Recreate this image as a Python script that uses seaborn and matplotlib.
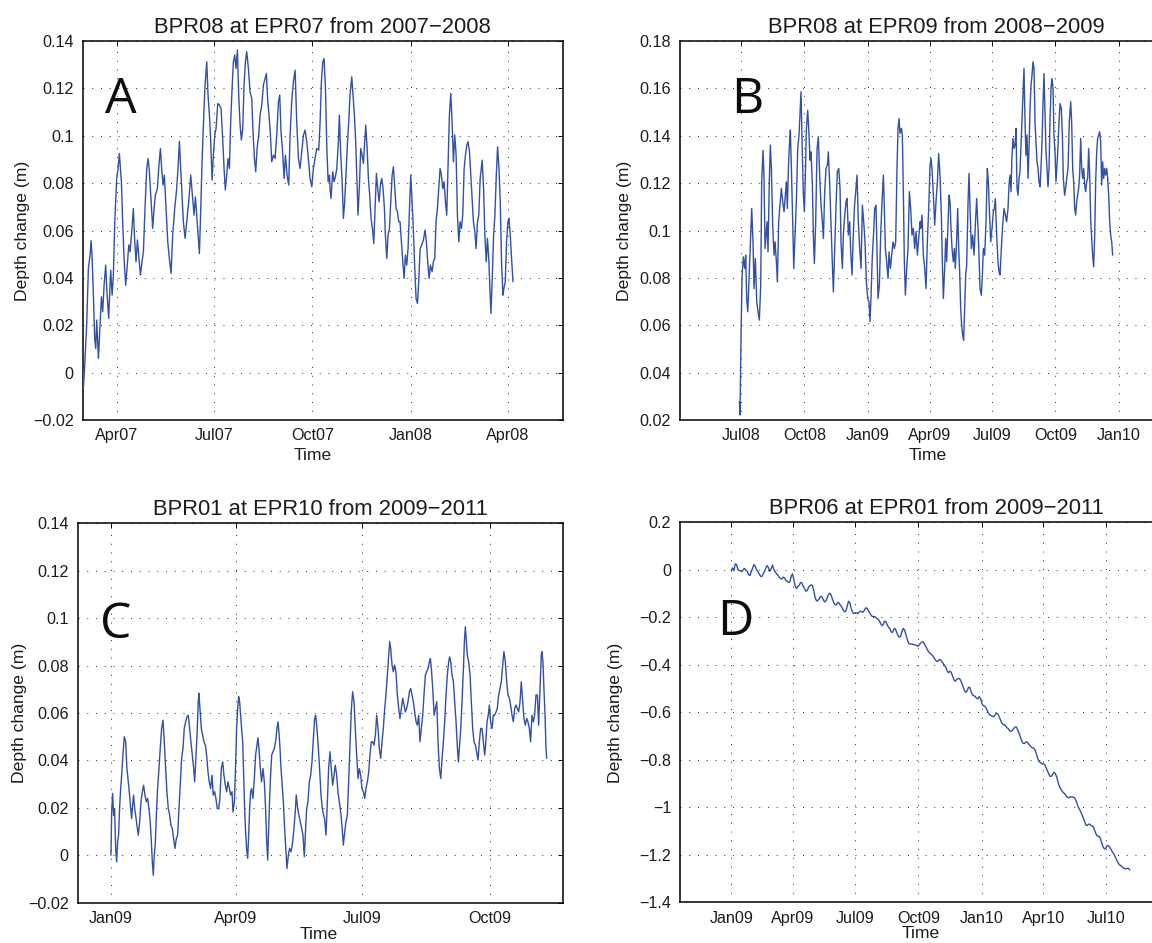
import numpy as np
import pandas as pd
import matplotlib
matplotlib.use('Agg')
import matplotlib.pyplot as plt
import matplotlib.dates as mdates
from matplotlib.ticker import FuncFormatter
import seaborn as sns

# ---- data ----
# panel A: days after 2007-02-28, depth change (m)
a_days = [0.0, 0.6, 1.9, 3.7, 5.3, 6.9, 7.8, 8.7, 10.0, 11.2,
          12.2, 13.1, 14.7, 16.2, 17.5, 18.7, 20.0, 21.5, 22.5, 24.3,
          26.2, 27.5, 28.7, 30.0, 31.8, 33.1, 34.3, 35.3, 36.2, 37.4,
          38.7, 40.2, 41.5, 43.1, 44.3, 45.9, 47.4, 48.7, 49.9, 51.2,
          52.4, 54.0, 55.5, 56.8, 58.3, 59.9, 61.2, 62.4, 63.7, 65.5,
          66.8, 68.0, 69.9, 71.1, 72.7, 73.9, 75.2, 76.4, 78.0, 79.6,
          81.1, 82.7, 84.2, 86.1, 87.7, 89.2, 90.5, 91.7, 93.0, 94.2,
          95.8, 97.3, 99.2, 101.1, 102.7, 104.2, 105.5, 106.7, 108.0, 109.2,
          110.5, 111.7, 113.3, 114.5, 116.1, 117.3, 118.6, 119.8, 121.1, 122.3,
          123.6, 124.8, 126.4, 127.9, 129.5, 131.0, 132.3, 133.5, 134.8, 136.0,
          137.3, 138.5, 139.8, 141.0, 142.3, 143.5, 144.8, 146.0, 147.3, 148.5,
          149.8, 151.0, 152.3, 153.5, 155.1, 156.6, 158.2, 159.4, 160.7, 161.9,
          163.2, 164.7, 166.0, 167.6, 169.1, 170.7, 171.9, 173.2, 174.4, 175.7,
          176.9, 178.5, 180.0, 181.6, 183.2, 184.4, 185.6, 186.9, 188.5, 189.7,
          191.3, 192.8, 194.1, 195.6, 197.2, 198.8, 200.3, 201.9, 203.4, 205.0,
          206.6, 208.1, 209.7, 211.2, 212.8, 214.4, 215.9, 217.5, 219.0, 220.9,
          222.2, 223.4, 224.7, 225.9, 227.2, 228.5, 229.7, 231.0,
          231.5, 232.4, 234.0, 235.3, 236.5, 237.8, 239.3, 240.2, 241.5, 242.7,
          244.0, 245.2, 246.5, 247.7, 249.0, 250.2, 251.8, 253.0, 254.3, 255.5,
          256.8, 257.7, 259.0, 260.2, 261.5, 262.7, 264.0, 264.9, 266.2, 267.4,
          268.6, 269.9, 271.5, 272.4, 273.6, 274.9, 276.1, 277.4, 278.6, 279.9,
          281.1, 282.4, 283.3, 284.6, 285.8, 287.1, 288.3, 289.6, 290.8, 292.1,
          293.3, 294.6, 295.8, 297.0, 298.3, 299.6, 300.8, 302.0, 303.3, 304.5,
          305.8, 307.0, 308.3, 309.5, 310.8, 312.0, 313.3, 314.5, 315.8, 317.3,
          318.9, 320.4, 321.7, 322.9, 324.2, 325.4, 327.0, 328.2, 329.5, 330.7,
          332.0, 333.2, 334.5, 335.7, 337.0, 338.2, 339.5, 340.7, 342.0, 343.2,
          344.5, 345.7, 347.0, 348.2, 349.5, 350.7, 352.0, 353.2, 354.5, 355.7,
          357.0, 358.2, 359.5, 360.7, 362.0, 363.2, 364.5, 365.7, 367.0, 368.2,
          369.5, 370.7, 372.0, 373.9, 375.2, 376.4, 377.7, 378.8, 380.2, 381.1,
          382.1, 383.3, 384.6, 385.8, 387.1, 388.3, 389.6, 390.8, 392.0, 393.3,
          394.2, 395.5, 396.7, 398.0, 398.9, 400.2, 401.4, 402.7]
a_depth = [0.0018, -0.0067, 0.0032, 0.0200, 0.0440, 0.0496, 0.0557, 0.0496, 0.0327, 0.0144,
           0.0102, 0.0222, 0.0060, 0.0200, 0.0320, 0.0257, 0.0369, 0.0454, 0.0355, 0.0229,
           0.0433, 0.0327, 0.0412, 0.0637, 0.0820, 0.0862, 0.0925, 0.0862, 0.0806, 0.0637,
           0.0482, 0.0369, 0.0440, 0.0539, 0.0510, 0.0595, 0.0693, 0.0552, 0.0468, 0.0560,
           0.0496, 0.0412, 0.0468, 0.0510, 0.0693, 0.0862, 0.0904, 0.0848, 0.0749, 0.0609,
           0.0693, 0.0749, 0.0777, 0.0862, 0.0946, 0.0862, 0.0792, 0.0834, 0.0693, 0.0552,
           0.0482, 0.0419, 0.0581, 0.0693, 0.0764, 0.0862, 0.0977, 0.0862, 0.0749, 0.0637,
           0.0567, 0.0637, 0.0721, 0.0834, 0.0749, 0.0665, 0.0742, 0.0665, 0.0581, 0.0503,
           0.0693, 0.0890, 0.1087, 0.1214, 0.1312, 0.1172, 0.1087, 0.0975, 0.0813, 0.0918,
           0.1003, 0.1031, 0.1136, 0.1130, 0.1115, 0.0989, 0.0862, 0.0771, 0.0834, 0.0904,
           0.0862, 0.1059, 0.1200, 0.1312, 0.1341, 0.1284, 0.1362, 0.1172, 0.1045, 0.0982,
           0.1031, 0.1214, 0.1312, 0.1355, 0.1284, 0.1186, 0.1158, 0.1017, 0.0904, 0.0848,
           0.0946, 0.1003, 0.1087, 0.1130, 0.1214, 0.1242, 0.1263, 0.1144, 0.1087, 0.1003,
           0.0890, 0.0918, 0.0904, 0.1003, 0.1144, 0.1172, 0.1017, 0.0946, 0.0820, 0.0918,
           0.0834, 0.0792, 0.1003, 0.1144, 0.1228, 0.1277, 0.1059, 0.0904, 0.0862, 0.0932,
           0.1003, 0.1024, 0.0975, 0.0904, 0.0820, 0.0785, 0.0862, 0.0904, 0.0946, 0.0939,
           0.1059, 0.1228, 0.1312, 0.1326, 0.1200, 0.0946, 0.0806, 0.0834,
           0.0777, 0.0735, 0.0848, 0.0806, 0.0827, 0.0862, 0.0975, 0.1087, 0.0918, 0.0820,
           0.0651, 0.0721, 0.0848, 0.0961, 0.1059, 0.1172, 0.1249, 0.1172, 0.1087, 0.0975,
           0.0792, 0.0665, 0.0792, 0.0946, 0.0918, 0.0883, 0.0975, 0.1045, 0.0946, 0.0820,
           0.0749, 0.0651, 0.0595, 0.0545, 0.0693, 0.0841, 0.0777, 0.0721, 0.0792, 0.0820,
           0.0777, 0.0693, 0.0581, 0.0482, 0.0581, 0.0609, 0.0721, 0.0834, 0.0869, 0.0777,
           0.0693, 0.0679, 0.0637, 0.0637, 0.0552, 0.0468, 0.0398, 0.0496, 0.0454, 0.0524,
           0.0679, 0.0834, 0.0721, 0.0595, 0.0440, 0.0313, 0.0292, 0.0384, 0.0524, 0.0539,
           0.0560, 0.0602, 0.0552, 0.0468, 0.0398, 0.0454, 0.0426, 0.0468, 0.0482, 0.0637,
           0.0693, 0.0777, 0.0862, 0.0834, 0.0777, 0.0806, 0.0721, 0.0665, 0.0890, 0.1087,
           0.1179, 0.1059, 0.0890, 0.1003, 0.0918, 0.0665, 0.0552, 0.0637, 0.0609, 0.0665,
           0.0862, 0.0918, 0.0961, 0.0975, 0.0932, 0.0834, 0.0735, 0.0637, 0.0595, 0.0524,
           0.0637, 0.0665, 0.0820, 0.0897, 0.0777, 0.0581, 0.0468, 0.0567, 0.0468, 0.0355,
           0.0250, 0.0398, 0.0581, 0.0665, 0.0834, 0.0953, 0.0862, 0.0721, 0.0468, 0.0327,
           0.0355, 0.0384, 0.0552, 0.0637, 0.0651, 0.0581, 0.0482, 0.0384]

# panel B: days after 2008-07-01
b_days = [-2.4, -1.5, 0.0, 1.5, 3.4, 5.3, 6.8, 8.2, 9.7, 11.1,
          13.1, 15.5, 17.4, 18.9, 20.8, 22.8, 24.7, 26.6, 28.6, 30.0,
          32.0, 33.4, 34.9, 36.3, 37.8, 39.2, 41.2, 42.6, 44.1, 46.0,
          48.0, 49.4, 51.4, 52.8, 54.7, 56.7, 58.6, 60.6, 62.5, 64.4,
          65.9, 67.3, 68.8, 70.3, 71.7, 73.2, 75.1, 76.6, 78.5, 80.4,
          82.4, 84.3, 85.8, 87.2, 88.7, 90.6, 92.1, 93.5, 95.0, 96.9,
          98.8, 100.3, 101.7, 103.7, 105.1, 106.6, 108.5, 110.5, 112.4, 114.3,
          116.3, 118.2, 119.7, 121.6, 123.5, 125.5, 126.9, 128.9, 130.3, 132.3,
          134.2, 136.1, 138.1, 140.0, 142.0, 143.9, 145.3, 147.3, 148.7, 150.7,
          152.6, 154.1, 156.0, 157.9, 159.4, 161.3, 162.8, 164.7, 166.7, 168.6,
          170.5, 172.5, 174.4, 176.4, 178.3, 180.2, 182.2, 184.1, 186.0, 187.5,
          189.0, 190.9, 192.8, 194.3, 196.2, 197.7, 199.1, 201.1, 203.0, 204.9,
          206.9, 208.3, 209.8, 211.7, 213.7, 215.1, 217.1, 219.0, 220.9, 222.9,
          224.8, 226.7, 228.2, 229.7, 231.1, 233.1, 234.5, 236.0, 237.4, 238.9,
          240.8, 242.7, 244.7, 246.6, 248.5, 250.5, 252.4, 254.4, 256.3, 258.2,
          260.2,
          261.1, 263.1, 265.0, 267.0, 268.9, 270.8, 272.8, 274.7, 276.2, 277.6,
          279.6, 281.5, 283.4, 285.4, 287.3, 289.2, 291.2, 292.6, 294.1, 296.0,
          297.5, 298.9, 300.9, 302.3, 303.8, 305.2, 306.7, 308.6, 310.1, 311.5,
          313.5, 314.9, 316.4, 317.8, 319.3, 320.7, 322.2, 323.6, 325.1, 326.6,
          328.0, 330.0, 331.4, 332.9, 334.8, 336.7, 338.7, 340.6, 342.5, 344.5,
          345.9, 347.4, 349.3, 350.8, 352.2, 354.2, 356.1, 358.0, 359.5, 360.9,
          362.9, 364.8, 366.8, 368.2, 369.7, 371.6, 373.5, 375.0, 376.5, 378.4,
          380.3, 382.3, 384.2, 386.1, 388.1, 389.5, 391.0, 392.4, 393.9, 395.3,
          396.8, 398.3, 399.7, 401.2, 402.6, 404.1, 405.5, 407.0, 408.4, 409.9,
          411.3, 412.8, 414.2, 415.7, 417.2, 418.6, 420.1, 421.5, 423.0, 424.4,
          425.9, 427.3, 428.8, 430.2, 431.7, 433.1, 434.6, 436.0, 437.5, 439.0,
          440.4, 441.9, 443.3, 444.8, 446.2, 447.7, 449.1, 450.6, 452.0, 453.5,
          454.9, 456.4, 457.8, 459.3, 460.8, 462.2, 463.7, 465.6, 467.1, 468.5,
          470.4, 471.9, 473.4, 475.3, 477.2, 479.2, 480.6, 482.1, 483.5, 485.0,
          486.4, 487.9, 489.3, 490.8, 492.2, 493.7, 495.2, 496.6, 498.1, 499.5,
          501.0, 502.4, 503.9, 505.3, 506.8, 508.2, 509.7, 511.1, 512.6, 514.1,
          515.5, 517.0, 518.4, 519.9, 521.3, 522.8, 524.2, 525.7, 527.1, 528.6,
          530.0, 531.5, 533.0, 534.4, 535.9, 537.3, 538.8, 540.2]
b_depth = [0.0277, 0.0221, 0.0558, 0.0812, 0.0889, 0.0840, 0.0896, 0.0713, 0.0657, 0.0755,
           0.0910, 0.1093, 0.0952, 0.0755, 0.0882, 0.0699, 0.0657, 0.0622, 0.0769, 0.1206,
           0.1339, 0.1220, 0.0924, 0.0981, 0.1037, 0.0910, 0.1220, 0.1361, 0.1262, 0.1023,
           0.0896, 0.0952, 0.0868, 0.0783, 0.1037, 0.1107, 0.1178, 0.1121, 0.1079, 0.1149,
           0.1206, 0.1093, 0.1262, 0.1361, 0.1424, 0.1262, 0.1037, 0.0840, 0.0981, 0.1121,
           0.1346, 0.1403, 0.1501, 0.1586, 0.1375, 0.1149, 0.1079, 0.1234, 0.1431, 0.1508,
           0.1403, 0.1297, 0.1332, 0.1192, 0.0981, 0.0861, 0.1037, 0.1346, 0.1396, 0.1234,
           0.1107, 0.1037, 0.0966, 0.1164, 0.1262, 0.1276, 0.1332, 0.1192, 0.1065, 0.0896,
           0.0741, 0.0924, 0.1107, 0.1248, 0.1262, 0.1178, 0.0952, 0.0840, 0.0981, 0.1065,
           0.1121, 0.1135, 0.0981, 0.1037, 0.0910, 0.0812, 0.0952, 0.1093, 0.1164, 0.1234,
           0.1037, 0.0924, 0.0840, 0.1107, 0.1037, 0.0952, 0.0783, 0.0713, 0.0699, 0.0615,
           0.0727, 0.0896, 0.0995, 0.1093, 0.1107, 0.0910, 0.0713, 0.0769, 0.0981, 0.1121,
           0.1234, 0.1093, 0.0924, 0.0868, 0.0798, 0.0910, 0.0840, 0.0896, 0.0952, 0.0924,
           0.0952, 0.1262, 0.1431, 0.1473, 0.1410, 0.1431, 0.1403, 0.1149, 0.0868, 0.0727,
           0.0840, 0.0924, 0.1164, 0.1093, 0.0981, 0.1009, 0.0924, 0.0995, 0.0896, 0.0966,
           0.1037,
           0.1009, 0.1065, 0.0896, 0.0840, 0.0755, 0.0952, 0.1093, 0.1276, 0.1304, 0.1262,
           0.1149, 0.1023, 0.1121, 0.1206, 0.1325, 0.1234, 0.1065, 0.0868, 0.0713, 0.0840,
           0.0966, 0.0868, 0.1037, 0.1149, 0.1121, 0.1009, 0.0924, 0.0868, 0.0924, 0.0840,
           0.0966, 0.1093, 0.0924, 0.0826, 0.0671, 0.0600, 0.0558, 0.0537, 0.0671, 0.0812,
           0.0854, 0.1121, 0.1241, 0.1093, 0.0924, 0.0981, 0.0896, 0.1023, 0.1135, 0.1009,
           0.0896, 0.0755, 0.0727, 0.0812, 0.0924, 0.0896, 0.1037, 0.1262, 0.1206, 0.1093,
           0.0952, 0.1009, 0.1079, 0.1093, 0.1135, 0.0981, 0.0868, 0.0826, 0.0812, 0.0924,
           0.1023, 0.1093, 0.1065, 0.1037, 0.1093, 0.1192, 0.1234, 0.1164, 0.1318, 0.1389,
           0.1346, 0.1361, 0.1431, 0.1178, 0.1149, 0.1220, 0.1248, 0.1361, 0.1459, 0.1572,
           0.1684, 0.1459, 0.1318, 0.1403, 0.1220, 0.1346, 0.1515, 0.1614, 0.1656, 0.1712,
           0.1684, 0.1459, 0.1375, 0.1290, 0.1262, 0.1206, 0.1185, 0.1262, 0.1375, 0.1544,
           0.1663, 0.1487, 0.1332, 0.1262, 0.1185, 0.1262, 0.1459, 0.1600, 0.1642, 0.1600,
           0.1403, 0.1332, 0.1206, 0.1276, 0.1361, 0.1459, 0.1536, 0.1515, 0.1403, 0.1220,
           0.1149, 0.1178, 0.1220, 0.1262, 0.1459, 0.1544, 0.1459, 0.1262, 0.1206, 0.1093,
           0.1065, 0.1121, 0.1149, 0.1178, 0.1234, 0.1389, 0.1262, 0.1220, 0.1262, 0.1192,
           0.1164, 0.1206, 0.1220, 0.1346, 0.1234, 0.1051, 0.0966, 0.0896, 0.0847, 0.0981,
           0.1206, 0.1332, 0.1389, 0.1403, 0.1417, 0.1375, 0.1192, 0.1290, 0.1220, 0.1262,
           0.1234, 0.1262, 0.1220, 0.1149, 0.1037, 0.0981, 0.0952, 0.0896]

# panel C: days after 2009-01-01
c_days = [0.0, 0.5, 1.2, 1.9, 2.6, 3.4, 4.1, 4.8, 5.5, 6.2,
          7.0, 7.7, 8.6, 9.6, 10.6, 11.5, 12.5, 13.4, 14.2, 14.9,
          15.6, 16.3, 17.1, 17.8, 18.7, 19.7, 20.7, 21.6, 22.6, 23.5,
          24.5, 25.5, 26.4, 27.4, 28.3, 29.1, 29.8, 30.5, 31.2, 31.9,
          32.7, 33.6, 34.6, 35.5, 36.5, 37.5, 38.4, 39.4, 40.3, 41.3,
          42.3, 43.2, 44.2, 45.1, 46.1, 47.1, 48.0, 49.0, 50.0, 50.9,
          51.9, 52.8, 53.8, 54.8, 55.7, 56.7, 57.6, 58.6, 59.6, 60.3,
          61.0, 62.0, 62.9, 63.4, 64.1, 65.1, 66.0, 67.0, 68.0, 68.9,
          69.9, 70.8, 71.8, 72.8, 73.7, 74.7, 75.6, 76.6, 77.6, 78.5,
          79.5, 80.5, 81.4, 82.4, 83.3, 84.3, 85.3, 86.2, 87.2, 87.9,
          88.9, 89.8, 90.5, 91.3, 92.0, 92.7, 93.4, 94.1, 94.9, 95.6,
          96.3, 97.0, 97.7, 98.5, 99.2, 99.9, 100.6, 101.3, 102.3, 103.3,
          104.2, 105.2, 105.9, 106.6, 107.6, 108.5, 109.5, 110.5, 111.4, 112.2,
          112.9, 113.6, 114.3, 115.0, 115.8, 116.7, 117.7, 118.6, 119.6, 120.3,
          121.0, 121.8, 122.5, 123.2, 124.2, 125.1, 126.1, 126.8, 127.8, 128.7,
          129.7, 130.6, 131.6, 132.6, 133.5, 134.5, 135.4, 136.4, 137.4, 138.3,
          139.3, 140.0, 141.0, 141.9, 142.9, 143.9, 144.8, 145.8, 146.7, 147.5,
          148.4, 149.4, 150.3, 151.3, 152.3, 153.2,
          153.9, 154.9, 155.9, 156.8, 157.8, 158.7, 159.7, 160.7, 161.6, 162.6,
          163.5, 164.5, 165.5, 166.4, 167.4, 168.4, 169.3, 170.3, 171.2, 172.2,
          173.2, 174.1, 175.1, 176.0, 177.0, 178.0, 178.9, 179.9, 180.8, 181.8,
          182.8, 183.7, 184.7, 185.7, 186.6, 187.6, 188.5, 189.5, 190.5, 191.4,
          192.4, 193.3, 194.3, 195.3, 196.2, 197.2, 198.1, 199.1, 200.1, 200.8,
          201.5, 202.5, 203.4, 204.4, 205.3, 206.3, 207.3, 208.2, 209.2, 210.2,
          211.1, 212.1, 213.0, 214.0, 215.0, 215.9, 216.9, 217.8, 218.8, 219.8,
          220.7, 221.7, 222.6, 223.6, 224.6, 225.5, 226.5, 227.4, 228.4, 229.4,
          230.1, 230.8, 231.8, 232.8, 233.7, 234.7, 235.6, 236.6, 237.6, 238.5,
          239.5, 240.4, 241.4, 242.3, 243.3, 244.0, 244.8, 245.7, 246.7, 247.6,
          248.6, 249.6, 250.3, 251.0, 252.0, 252.9, 253.9, 254.6, 255.3, 256.0,
          256.7, 257.7, 258.7, 259.6, 260.6, 261.5, 262.5, 263.4, 264.4, 265.4,
          266.3, 267.3, 268.3, 269.2, 269.9, 270.9, 271.8, 272.6, 273.5, 274.5,
          275.5, 276.4, 277.4, 278.3, 279.3, 280.3, 281.2, 282.2, 283.1, 284.1,
          285.1, 286.0, 287.0, 287.9, 288.9, 289.9, 290.8, 291.8, 292.7, 293.7,
          294.7, 295.6, 296.6, 297.5, 298.5, 299.5, 300.4, 301.4, 302.3, 303.3,
          304.3, 305.2, 306.2, 307.2, 308.1, 309.1, 310.0, 310.5, 311.2, 311.9,
          312.7, 313.4, 313.9]
c_depth = [0.0001, 0.0183, 0.0261, 0.0169, 0.0197, 0.0029, -0.0028, 0.0057, 0.0085, 0.0197,
           0.0282, 0.0338, 0.0423, 0.0500, 0.0479, 0.0366, 0.0310, 0.0254, 0.0197, 0.0155,
           0.0212, 0.0254, 0.0197, 0.0169, 0.0127, 0.0085, 0.0141, 0.0226, 0.0268, 0.0296,
           0.0254, 0.0226, 0.0240, 0.0197, 0.0141, 0.0057, -0.0028, -0.0084, 0.0001, 0.0043,
           0.0169, 0.0282, 0.0366, 0.0451, 0.0535, 0.0570, 0.0479, 0.0366, 0.0268, 0.0197,
           0.0169, 0.0127, 0.0113, 0.0071, 0.0029, 0.0071, 0.0085, 0.0197, 0.0310, 0.0409,
           0.0451, 0.0535, 0.0563, 0.0584, 0.0591, 0.0535, 0.0479, 0.0423, 0.0366, 0.0310,
           0.0394, 0.0507, 0.0648, 0.0683, 0.0619, 0.0535, 0.0507, 0.0479, 0.0465, 0.0423,
           0.0352, 0.0310, 0.0282, 0.0338, 0.0254, 0.0268, 0.0240, 0.0197, 0.0197, 0.0240,
           0.0366, 0.0394, 0.0338, 0.0296, 0.0268, 0.0310, 0.0282, 0.0254, 0.0268, 0.0183,
           0.0226, 0.0380, 0.0535, 0.0619, 0.0669, 0.0648, 0.0591, 0.0535, 0.0479, 0.0338,
           0.0197, 0.0099, 0.0029, -0.0013, 0.0085, 0.0197, 0.0268, 0.0282, 0.0240, 0.0324,
           0.0423, 0.0465, 0.0496, 0.0451, 0.0366, 0.0310, 0.0366, 0.0310, 0.0197, 0.0057,
           -0.0020, 0.0113, 0.0240, 0.0338, 0.0423, 0.0437, 0.0451, 0.0479, 0.0535, 0.0563,
           0.0521, 0.0451, 0.0366, 0.0310, 0.0226, 0.0113, 0.0015, -0.0056, 0.0001, 0.0029,
           0.0015, 0.0043, 0.0099, 0.0169, 0.0254, 0.0197, 0.0169, 0.0141, 0.0113, 0.0085,
           -0.0006, 0.0085, 0.0197, 0.0226, 0.0310, 0.0338, 0.0394, 0.0493, 0.0577, 0.0591,
           0.0535, 0.0451, 0.0366, 0.0254, 0.0197, 0.0169,
           0.0155, 0.0085, 0.0226, 0.0366, 0.0437, 0.0366, 0.0296, 0.0338, 0.0380, 0.0338,
           0.0268, 0.0226, 0.0183, 0.0127, 0.0043, 0.0099, 0.0141, 0.0169, 0.0310, 0.0479,
           0.0619, 0.0690, 0.0648, 0.0535, 0.0423, 0.0324, 0.0366, 0.0338, 0.0282, 0.0268,
           0.0240, 0.0282, 0.0310, 0.0352, 0.0423, 0.0479, 0.0479, 0.0465, 0.0507, 0.0591,
           0.0535, 0.0451, 0.0409, 0.0479, 0.0535, 0.0619, 0.0676, 0.0760, 0.0844, 0.0901,
           0.0873, 0.0802, 0.0774, 0.0802, 0.0774, 0.0676, 0.0619, 0.0577, 0.0619, 0.0662,
           0.0634, 0.0605, 0.0619, 0.0648, 0.0690, 0.0704, 0.0676, 0.0648, 0.0605, 0.0563,
           0.0549, 0.0591, 0.0479, 0.0535, 0.0591, 0.0676, 0.0760, 0.0774, 0.0788, 0.0816,
           0.0830, 0.0788, 0.0704, 0.0591, 0.0619, 0.0648, 0.0479, 0.0366, 0.0324, 0.0409,
           0.0479, 0.0563, 0.0676, 0.0760, 0.0816, 0.0837, 0.0816, 0.0760, 0.0732, 0.0648,
           0.0563, 0.0451, 0.0394, 0.0451, 0.0535, 0.0648, 0.0788, 0.0901, 0.0964, 0.0901,
           0.0844, 0.0816, 0.0760, 0.0648, 0.0535, 0.0479, 0.0465, 0.0437, 0.0402, 0.0479,
           0.0535, 0.0535, 0.0479, 0.0423, 0.0465, 0.0563, 0.0591, 0.0634, 0.0563, 0.0535,
           0.0591, 0.0591, 0.0605, 0.0619, 0.0676, 0.0704, 0.0732, 0.0802, 0.0859, 0.0816,
           0.0732, 0.0676, 0.0662, 0.0634, 0.0591, 0.0563, 0.0619, 0.0634, 0.0619, 0.0605,
           0.0648, 0.0732, 0.0648, 0.0577, 0.0549, 0.0577, 0.0563, 0.0535, 0.0479, 0.0591,
           0.0563, 0.0591, 0.0676, 0.0676, 0.0549, 0.0704, 0.0844, 0.0859, 0.0816, 0.0704,
           0.0591, 0.0451, 0.0409]

# panel D: evenly spaced readings from 2009-01-01 to 2010-08-05
d_start, d_end = '2009-01-01', '2010-08-05'
d_depth = [-0.006, 0.008, -0.003, 0.025, 0.022, 0.001, -0.003, -0.003, -0.008, 0.001,
           0.006, -0.003, -0.006, -0.020, -0.024, -0.008, 0.006, 0.022, 0.015, 0.001,
           -0.008, -0.017, -0.027, -0.028, -0.017, -0.006, 0.008, 0.018, 0.008, -0.006,
           0.006, 0.020, 0.001, -0.008, -0.017, -0.022, -0.031, -0.037, -0.038, -0.031,
           -0.034, -0.045, -0.048, -0.053, -0.051, -0.027, -0.017, -0.041, -0.069, -0.079,
           -0.070, -0.065, -0.053, -0.055, -0.070, -0.079, -0.090, -0.087, -0.073, -0.067,
           -0.063, -0.067, -0.090, -0.118, -0.131, -0.129, -0.122, -0.112, -0.114, -0.125,
           -0.135, -0.132, -0.118, -0.104, -0.098, -0.107, -0.125, -0.139, -0.148, -0.146,
           -0.136, -0.141, -0.150, -0.157, -0.169, -0.177, -0.174, -0.153, -0.132, -0.139,
           -0.163, -0.178, -0.184, -0.181, -0.181, -0.184, -0.178, -0.174, -0.177, -0.178,
           -0.169, -0.160, -0.162, -0.173, -0.183, -0.191, -0.197, -0.197, -0.198, -0.204,
           -0.207, -0.214, -0.225, -0.235, -0.231, -0.216, -0.218, -0.231, -0.242, -0.247,
           -0.261, -0.264, -0.249, -0.247, -0.261, -0.275, -0.284, -0.281, -0.261, -0.247,
           -0.253, -0.273, -0.292, -0.309, -0.312, -0.312, -0.313, -0.315, -0.316, -0.318,
           -0.322, -0.316, -0.309, -0.304, -0.304, -0.313, -0.323, -0.335, -0.344, -0.351,
           -0.356, -0.360, -0.368, -0.378, -0.385, -0.385, -0.378, -0.378, -0.387, -0.394,
           -0.402, -0.410, -0.426, -0.433, -0.427, -0.431, -0.446, -0.462, -0.469, -0.462,
           -0.458, -0.457, -0.464, -0.478, -0.493, -0.509, -0.516, -0.509, -0.495, -0.495,
           -0.513, -0.527, -0.530, -0.533, -0.541, -0.543, -0.534, -0.541, -0.562, -0.572,
           -0.573, -0.579, -0.592, -0.603, -0.611, -0.614, -0.617, -0.618, -0.611, -0.604,
           -0.607, -0.618, -0.631, -0.645, -0.651, -0.652, -0.659, -0.665, -0.670, -0.679,
           -0.680, -0.675, -0.668, -0.661, -0.662, -0.675, -0.689, -0.706, -0.722, -0.731,
           -0.731, -0.725, -0.725, -0.732, -0.739, -0.746, -0.749, -0.751, -0.760, -0.776,
           -0.796, -0.808, -0.811, -0.817, -0.817, -0.818, -0.831, -0.843, -0.856, -0.869,
           -0.870, -0.862, -0.853, -0.856, -0.869, -0.890, -0.909, -0.921, -0.930, -0.937,
           -0.942, -0.949, -0.957, -0.960, -0.956, -0.956, -0.957, -0.957, -0.964, -0.977,
           -0.994, -1.006, -1.016, -1.029, -1.043, -1.057, -1.074, -1.077, -1.071, -1.071,
           -1.077, -1.079, -1.086, -1.102, -1.116, -1.122, -1.122, -1.131, -1.151, -1.167,
           -1.175, -1.172, -1.161, -1.161, -1.168, -1.178, -1.188, -1.196, -1.207, -1.220,
           -1.231, -1.240, -1.245, -1.249, -1.254, -1.258, -1.259, -1.257, -1.257, -1.264]

titles = ['BPR08 at EPR07 from 2007\u22122008', 'BPR08 at EPR09 from 2008\u22122009',
          'BPR01 at EPR10 from 2009\u22122011', 'BPR06 at EPR01 from 2009\u22122011']
letters = ['A', 'B', 'C', 'D']


def make_frame(start, days, depth):
    dates = pd.Timestamp(start) + pd.to_timedelta(np.asarray(days), unit='D')
    return pd.DataFrame({'Time': dates, 'Depth': depth})


frames = [
    make_frame('2007-02-28', a_days, a_depth),
    make_frame('2008-07-01', b_days, b_depth),
    make_frame('2009-01-01', c_days, c_depth),
    pd.DataFrame({'Time': pd.date_range(d_start, d_end, periods=len(d_depth)),
                  'Depth': d_depth}),
]

# layout of the four axes (figure fractions) and their ranges
panels = [
    dict(rect=[0.0718, 0.5546, 0.4167, 0.4019],
         xlim=(pd.Timestamp('2007-02-28'), pd.Timestamp('2007-02-28') + pd.Timedelta(days=449.3)),
         ylim=(-0.02, 0.14), ystep=0.02, letter_xy=(0.047, 0.81), ylab_x=-0.11,
         xlab=(0.48, -0.074)),
    dict(rect=[0.5903, 0.5546, 0.4444, 0.4019],
         xlim=(pd.Timestamp('2008-07-01') - pd.Timedelta(days=88.7),
               pd.Timestamp('2008-07-01') + pd.Timedelta(days=655.5)),
         ylim=(0.02, 0.18), ystep=0.02, letter_xy=(0.100, 0.81), ylab_x=-0.094,
         xlab=(0.483, -0.074)),
    dict(rect=[0.0674, 0.0427, 0.4215, 0.4023],
         xlim=(pd.Timestamp('2009-01-01') - pd.Timedelta(days=24.0),
               pd.Timestamp('2009-10-01') + pd.Timedelta(days=52.8)),
         ylim=(-0.02, 0.14), ystep=0.02, letter_xy=(0.046, 0.698), ylab_x=-0.104,
         xlab=(0.496, -0.063)),
    dict(rect=[0.5905, 0.0431, 0.4444, 0.4030],
         xlim=(pd.Timestamp('2009-01-01') - pd.Timedelta(days=74.3),
               pd.Timestamp('2009-01-01') + pd.Timedelta(days=672.0)),
         ylim=(-1.4, 0.2), ystep=0.2, letter_xy=(0.072, 0.703), ylab_x=-0.112,
         xlab=(0.47, -0.063)),
]

sns.set_theme(style='white')
plt.rcParams['font.family'] = ['Liberation Sans', 'DejaVu Sans']
plt.rcParams['axes.unicode_minus'] = True

line_color = '#3150a8'
text_color = '#1c1c1c'


def fmt_y(v, pos):
    v = round(v, 4) + 0.0
    return ('%g' % v).replace('-', '\u2212')


fig = plt.figure(figsize=(11.52, 9.43), dpi=100)

for df, p, title, letter in zip(frames, panels, titles, letters):
    ax = fig.add_axes(p['rect'])
    ax.set_facecolor('white')
    sns.lineplot(data=df, x='Time', y='Depth', ax=ax, color=line_color,
                 linewidth=1.0, estimator=None, sort=False, zorder=3)

    lo, hi = p['ylim']
    ax.set_ylim(lo, hi)
    ax.set_yticks(np.round(np.arange(lo, hi + p['ystep'] / 2, p['ystep']), 3))
    ax.yaxis.set_major_formatter(FuncFormatter(fmt_y))

    # quarterly ticks, only those that fall inside the visible figure
    x0, x1 = p['xlim']
    ax.set_xlim(x0, x1)
    quarters = pd.date_range(x0.normalize(), x1, freq='QS')
    frac = (quarters - x0) / (x1 - x0)
    fig_x = p['rect'][0] + p['rect'][2] * np.asarray(frac, dtype=float)
    ax.set_xticks(list(quarters[fig_x <= 0.99]))
    ax.xaxis.set_major_formatter(mdates.DateFormatter('%b%y'))

    ax.grid(True, color='#2a2a2a', linestyle=(0, (1, 8)), linewidth=0.7, zorder=1)
    ax.set_axisbelow(True)
    for side in ['left', 'right', 'top', 'bottom']:
        ax.spines[side].set_visible(True)
        ax.spines[side].set_color('black')
        ax.spines[side].set_linewidth(1.1)
    ax.tick_params(axis='both', which='major', direction='in', length=3.5, width=0.7,
                   top=True, right=True, labelsize=11.6, colors='black',
                   labelcolor=text_color)
    ax.tick_params(axis='y', pad=6.5)
    ax.tick_params(axis='x', pad=6)

    ax.set_title(title, fontsize=15.8, color=text_color, pad=6)
    ax.set_xlabel('Time', fontsize=12.6, color=text_color)
    ax.set_ylabel('Depth change (m)', fontsize=12.6, color=text_color)
    ax.xaxis.set_label_coords(*p['xlab'])
    ax.yaxis.set_label_coords(p['ylab_x'], 0.5)

    ax.text(p['letter_xy'][0], p['letter_xy'][1], letter, transform=ax.transAxes,
            fontsize=36, family=['Open Sans', 'DejaVu Sans'], color='#0d0d0d',
            ha='left', va='baseline')

fig.savefig('out.png', dpi=100, facecolor='white')
